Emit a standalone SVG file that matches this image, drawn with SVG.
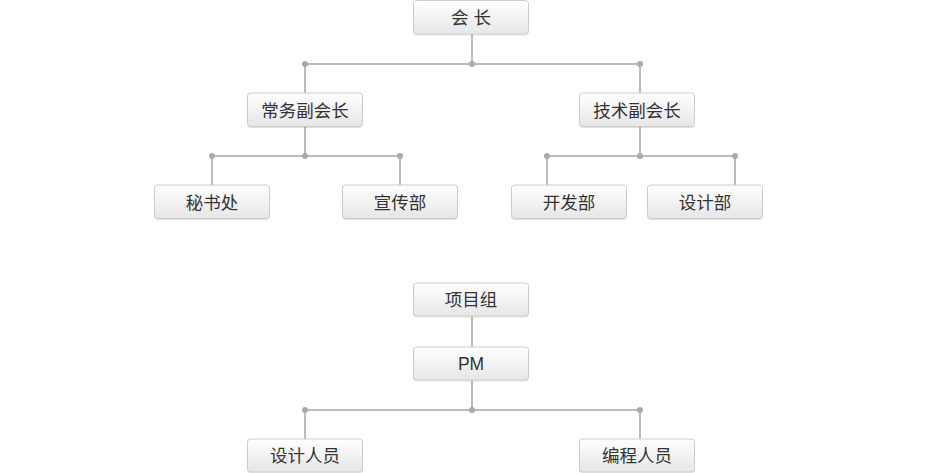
<svg xmlns="http://www.w3.org/2000/svg" width="949" height="473" viewBox="0 0 949 473">
  <defs>
    <linearGradient id="boxFill" x1="0" y1="0" x2="0" y2="1">
      <stop offset="0" stop-color="#ffffff"/>
      <stop offset="1" stop-color="#e6e6e6"/>
    </linearGradient>
    <filter id="soft" x="-5%" y="-10%" width="110%" height="130%">
      <feDropShadow dx="0" dy="1" stdDeviation="0.6" flood-color="#000" flood-opacity="0.12"/>
    </filter>
  </defs>
  <style>
    .box { fill: url(#boxFill); stroke: #cccccc; stroke-width: 1; filter: url(#soft); }
    .lbl { font-family: "Liberation Sans", "Noto Sans CJK SC", sans-serif; font-size: 17.5px; fill: #333333; text-anchor: middle; }
    .wire { stroke: #bbbbbb; stroke-width: 2; fill: none; }
    .dot { fill: #aaaaaa; }
  </style>
  <rect width="949" height="473" fill="#ffffff"/>

  <g id="connectors">
    <!-- club tree -->
    <path class="wire" d="M472 34 V64 M305 64 H640 M305 64 V93 M640 64 V93"/>
    <path class="wire" d="M305 127 V156 M212 156 H400 M212 156 V185 M400 156 V185"/>
    <path class="wire" d="M640 127 V156 M547 156 H735 M547 156 V185 M735 156 V185"/>
    <!-- project tree -->
    <path class="wire" d="M472 316 V347 M472 380 V410 M305 410 H640 M305 410 V439 M640 410 V439"/>
    <circle class="dot" cx="305" cy="64" r="3"/>
    <circle class="dot" cx="472" cy="64" r="3"/>
    <circle class="dot" cx="640" cy="64" r="3"/>
    <circle class="dot" cx="212" cy="156" r="3"/>
    <circle class="dot" cx="305" cy="156" r="3"/>
    <circle class="dot" cx="400" cy="156" r="3"/>
    <circle class="dot" cx="547" cy="156" r="3"/>
    <circle class="dot" cx="640" cy="156" r="3"/>
    <circle class="dot" cx="735" cy="156" r="3"/>
    <circle class="dot" cx="305" cy="410" r="3"/>
    <circle class="dot" cx="472" cy="410" r="3"/>
    <circle class="dot" cx="640" cy="410" r="3"/>
  </g>

  <g id="president">
    <rect class="box" x="413.5" y="0.5" width="115" height="33.5" rx="3"/>
    <text class="lbl" x="471" y="23.5">会 长</text>
  </g>
  <g id="exec-vp">
    <rect class="box" x="247.5" y="93" width="115" height="33.5" rx="3"/>
    <text class="lbl" x="305" y="116.5">常务副会长</text>
  </g>
  <g id="tech-vp">
    <rect class="box" x="579.5" y="93" width="115" height="33.5" rx="3"/>
    <text class="lbl" x="637" y="116.5">技术副会长</text>
  </g>
  <g id="secretariat">
    <rect class="box" x="154.5" y="185" width="115" height="33.5" rx="3"/>
    <text class="lbl" x="212" y="208.5">秘书处</text>
  </g>
  <g id="publicity">
    <rect class="box" x="342.5" y="185" width="115" height="33.5" rx="3"/>
    <text class="lbl" x="400" y="208.5">宣传部</text>
  </g>
  <g id="development">
    <rect class="box" x="511.5" y="185" width="115" height="33.5" rx="3"/>
    <text class="lbl" x="569" y="208.5">开发部</text>
  </g>
  <g id="design">
    <rect class="box" x="647.5" y="185" width="115" height="33.5" rx="3"/>
    <text class="lbl" x="705" y="208.5">设计部</text>
  </g>
  <g id="project-group">
    <rect class="box" x="413.5" y="283" width="115" height="33" rx="3"/>
    <text class="lbl" x="471" y="305.5">项目组</text>
  </g>
  <g id="pm">
    <rect class="box" x="413.5" y="347" width="115" height="33" rx="3"/>
    <text class="lbl" x="471" y="369.5">PM</text>
  </g>
  <g id="designers">
    <rect class="box" x="247.5" y="439" width="115" height="33" rx="3"/>
    <text class="lbl" x="305" y="461.5">设计人员</text>
  </g>
  <g id="programmers">
    <rect class="box" x="579.5" y="439" width="115" height="33" rx="3"/>
    <text class="lbl" x="637" y="461.5">编程人员</text>
  </g>
</svg>
